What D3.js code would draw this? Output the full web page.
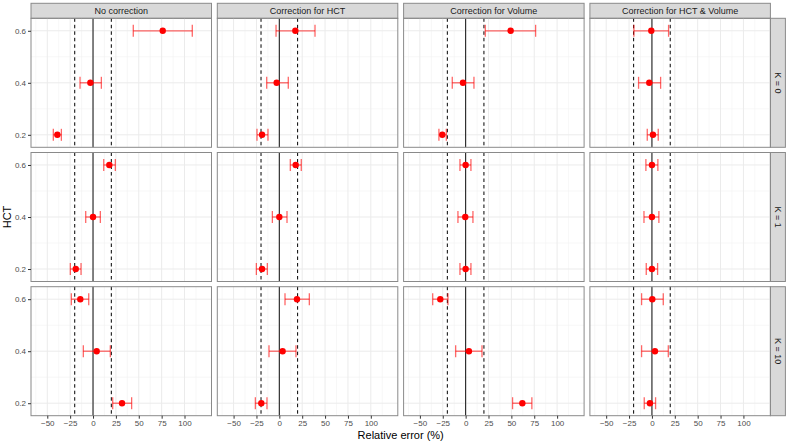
<!DOCTYPE html>
<html>
<head>
<meta charset="utf-8">
<script src="https://cdn.jsdelivr.net/npm/d3@7"></script>
<style>
  body { margin: 0; background: #fff; }
  text { font-family: "Liberation Sans", Arial, sans-serif; }
</style>
</head>
<body>
<div id="chart"></div>
<script>
// Facet labels
const methods = ['No correction', 'Correction for HCT', 'Correction for Volume', 'Correction for HCT & Volume'];
const kLevels = ['K = 0', 'K = 1', 'K = 10'];
const hctLevels = [0.2, 0.4, 0.6];

// Relative error estimates [K row][method col][HCT 0.2, 0.4, 0.6]
const estimate = [
    [[-39, -2.9, 76.2], [-18.9, -2.9, 17.5], [-25.5, -2.9, 49.2], [1.1, -2.9, -0.7]],
    [[-18.9, 0, 17.8], [-18.9, 0, 17.9], [0, -0.4, 0], [0, 0, 0]],
    [[31.7, 4, -13.9], [-19.7, 3.6, 19.3], [62, 3.6, -27.7], [-2.2, 3.3, 0.4]]
];
const lower = [
    [[-43.4, -14.2, 44], [-24.4, -13.8, -3.6], [-29.2, -14.6, 21.5], [-5.1, -14.6, -19.7]],
    [[-24.8, -8, 11.7], [-25.1, -7.6, 12], [-6.2, -8.4, -6.2], [-6.2, -8.7, -6.6]],
    [[21.5, -10.6, -23.7], [-26.2, -11.3, 6.2], [51.3, -10.9, -36], [-8.4, -11.3, -11.3]]
];
const upper = [
    [[-34.6, 9.1, 108.5], [-12.4, 9.8, 39], [-21.1, 9.1, 76.5], [6.9, 9.5, 18.2]],
    [[-13.1, 8, 24.4], [-13.1, 8.4, 24], [5.8, 8, 5.8], [6.2, 7.6, 6.5]],
    [[42.2, 18.9, -4.7], [-13.5, 18.2, 32.8], [72.4, 17.9, -19.3], [4, 17.9, 12.4]]
];

const xTicks = [-50, -25, 0, 25, 50, 75, 100];
const xMinor = [-62.5, -37.5, -12.5, 12.5, 37.5, 62.5, 87.5, 112.5];
const yTicks = [0.2, 0.4, 0.6];
const yMinor = [0.3, 0.5];
const refLines = [-20, 20];

const W = 789, H = 443;
const panelLeft = 31, panelW = 180.5, colStep = 186.3;
const panelTop = 18.3, panelH = 129, rowStep = 134.2;
const stripSize = 15;

const svg = d3.select('#chart').append('svg')
    .attr('width', W)
    .attr('height', H);

const x = d3.scaleLinear().domain([-67.8, 129.5]).range([0, panelW]);
const y = d3.scaleLinear().domain([0.152, 0.648]).range([panelH, 0]);

// top strips
methods.forEach((m, c) => {
    const sx = panelLeft + c * colStep;
    svg.append('rect')
        .attr('x', sx).attr('y', panelTop - stripSize)
        .attr('width', panelW).attr('height', stripSize)
        .style('fill', '#D9D9D9').style('stroke', '#8a8a8a').style('stroke-width', 1);
    svg.append('text')
        .attr('x', sx + panelW / 2).attr('y', panelTop - stripSize / 2)
        .attr('text-anchor', 'middle').attr('dominant-baseline', 'central')
        .style('font-size', '9px').style('fill', '#1A1A1A')
        .text(m);
});

// right strips
kLevels.forEach((k, r) => {
    const sy = panelTop + r * rowStep;
    const sx = panelLeft + 3 * colStep + panelW;
    svg.append('rect')
        .attr('x', sx).attr('y', sy)
        .attr('width', stripSize).attr('height', panelH)
        .style('fill', '#D9D9D9').style('stroke', '#8a8a8a').style('stroke-width', 1);
    svg.append('text')
        .attr('transform', `translate(${sx + stripSize / 2},${sy + panelH / 2}) rotate(90)`)
        .attr('text-anchor', 'middle').attr('dominant-baseline', 'central')
        .style('font-size', '9px').style('fill', '#1A1A1A')
        .text(k);
});

kLevels.forEach((k, r) => {
    methods.forEach((m, c) => {
        const g = svg.append('g')
            .attr('transform', `translate(${panelLeft + c * colStep},${panelTop + r * rowStep})`);

        // grid
        g.selectAll('.xminor').data(xMinor).enter().append('line')
            .attr('x1', d => x(d)).attr('x2', d => x(d))
            .attr('y1', 0).attr('y2', panelH)
            .style('stroke', '#F2F2F2').style('stroke-width', 0.6);
        g.selectAll('.yminor').data(yMinor).enter().append('line')
            .attr('y1', d => y(d)).attr('y2', d => y(d))
            .attr('x1', 0).attr('x2', panelW)
            .style('stroke', '#F2F2F2').style('stroke-width', 0.6);
        g.selectAll('.xmajor').data(xTicks).enter().append('line')
            .attr('x1', d => x(d)).attr('x2', d => x(d))
            .attr('y1', 0).attr('y2', panelH)
            .style('stroke', '#EBEBEB').style('stroke-width', 1);
        g.selectAll('.ymajor').data(yTicks).enter().append('line')
            .attr('y1', d => y(d)).attr('y2', d => y(d))
            .attr('x1', 0).attr('x2', panelW)
            .style('stroke', '#EBEBEB').style('stroke-width', 1);

        // reference lines
        g.append('line')
            .attr('x1', x(0)).attr('x2', x(0)).attr('y1', 0).attr('y2', panelH)
            .style('stroke', '#222').style('stroke-width', 1.1);
        g.selectAll('.ref').data(refLines).enter().append('line')
            .attr('x1', d => x(d)).attr('x2', d => x(d))
            .attr('y1', 0).attr('y2', panelH)
            .style('stroke', '#000').style('stroke-width', 1)
            .style('stroke-dasharray', '3.5,3');

        // error bars
        const pts = hctLevels.map((h, i) => ({
            hct: h, est: estimate[r][c][i], lo: lower[r][c][i], hi: upper[r][c][i]
        }));
        const eb = g.selectAll('.eb').data(pts).enter().append('g')
            .style('stroke', '#FF0000').style('stroke-opacity', 0.6).style('stroke-width', 1.3);
        eb.append('line')
            .attr('x1', d => x(d.lo)).attr('x2', d => x(d.hi))
            .attr('y1', d => y(d.hct)).attr('y2', d => y(d.hct));
        eb.append('line')
            .attr('x1', d => x(d.lo)).attr('x2', d => x(d.lo))
            .attr('y1', d => y(d.hct) - 6).attr('y2', d => y(d.hct) + 6);
        eb.append('line')
            .attr('x1', d => x(d.hi)).attr('x2', d => x(d.hi))
            .attr('y1', d => y(d.hct) - 6).attr('y2', d => y(d.hct) + 6);

        g.selectAll('.pt').data(pts).enter().append('circle')
            .attr('cx', d => x(d.est)).attr('cy', d => y(d.hct))
            .attr('r', 3.2)
            .style('fill', '#FF0000');

        // border
        g.append('rect')
            .attr('width', panelW).attr('height', panelH)
            .style('fill', 'none').style('stroke', '#8a8a8a').style('stroke-width', 1);

        // axes
        if (r === kLevels.length - 1) {
            const ax = g.append('g')
                .attr('transform', `translate(0,${panelH})`)
                .call(d3.axisBottom(x).tickValues(xTicks).tickSize(3).tickPadding(2)
                    .tickFormat(d => d < 0 ? '\u2212' + Math.abs(d) : d));
            ax.select('.domain').remove();
            ax.selectAll('line').style('stroke', '#333');
            ax.selectAll('text').style('font-size', '8px').style('fill', '#4D4D4D')
                .style('font-family', '"Liberation Sans", Arial, sans-serif');
        }
        if (c === 0) {
            const ay = g.append('g')
                .call(d3.axisLeft(y).tickValues(yTicks).tickSize(3).tickPadding(2)
                    .tickFormat(d3.format('.1f')));
            ay.select('.domain').remove();
            ay.selectAll('line').style('stroke', '#333');
            ay.selectAll('text').style('font-size', '8px').style('fill', '#4D4D4D')
                .style('font-family', '"Liberation Sans", Arial, sans-serif');
        }
    });
});

// axis titles
const gridLeft = panelLeft, gridRight = panelLeft + 3 * colStep + panelW;
svg.append('text')
    .attr('x', (gridLeft + gridRight) / 2).attr('y', 439)
    .attr('text-anchor', 'middle')
    .style('font-size', '11px').style('fill', '#000')
    .text('Relative error (%)');
svg.append('text')
    .attr('transform', `translate(11,${panelTop + (2 * rowStep + panelH) / 2}) rotate(-90)`)
    .attr('text-anchor', 'middle')
    .style('font-size', '11px').style('fill', '#000')
    .text('HCT');
</script>
</body>
</html>
